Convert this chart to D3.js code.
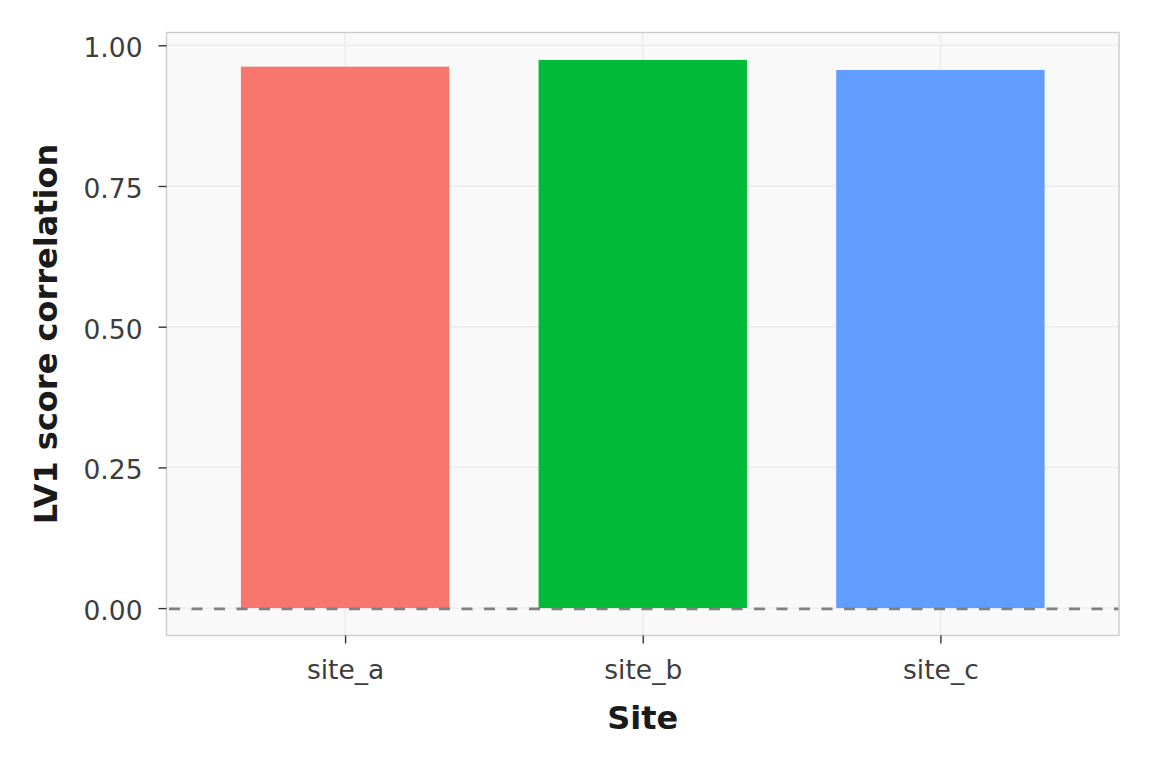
<!DOCTYPE html>
<html>
<head>
<meta charset="utf-8">
<script src="https://cdn.jsdelivr.net/npm/d3@7"></script>
<style>
  body { margin: 0; background: #fff; }
  text { font-family: "DejaVu Sans", sans-serif; }
</style>
</head>
<body>
<div id="chart"></div>
<script>
// chart data
var sites = ["site_a", "site_b", "site_c"];
var correlations = [0.962, 0.974, 0.956];
var barColors = ["#F8766D", "#00BA38", "#619CFF"];
var yTicks = [0, 0.25, 0.5, 0.75, 1];

var svgWidth = 1152;
var svgHeight = 768;

var margin = { top: 32.5, right: 33, bottom: 132.5, left: 166.5 };
var width = svgWidth - margin.left - margin.right;
var height = svgHeight - margin.top - margin.bottom;

var svg = d3.select("#chart")
  .append("svg")
  .attr("width", svgWidth)
  .attr("height", svgHeight);

var chartGroup = svg.append("g")
  .attr("transform", `translate(${margin.left}, ${margin.top})`);

// discrete x scale, 0.6 step padding on each side like ggplot
var xScale = d3.scalePoint()
  .domain(sites)
  .range([0, width])
  .padding(0.6);
var step = width / (sites.length - 1 + 1.2);
var barWidth = step * 0.7;

var yMax = d3.max(correlations);
var pad = yMax * 0.05;
var yScale = d3.scaleLinear()
  .domain([-pad, yMax + pad])
  .range([height, 0]);

// panel background
chartGroup.append("rect")
  .attr("width", width)
  .attr("height", height)
  .attr("fill", "#f9f9f9");

// grid lines
chartGroup.append("g")
  .selectAll("line")
  .data(yTicks)
  .enter()
  .append("line")
  .attr("x1", 0)
  .attr("x2", width)
  .attr("y1", d => yScale(d))
  .attr("y2", d => yScale(d))
  .attr("stroke", "#ebebeb")
  .attr("stroke-width", 1.4);

chartGroup.append("g")
  .selectAll("line")
  .data(sites)
  .enter()
  .append("line")
  .attr("x1", d => xScale(d))
  .attr("x2", d => xScale(d))
  .attr("y1", 0)
  .attr("y2", height)
  .attr("stroke", "#ebebeb")
  .attr("stroke-width", 1.4);

// bars
chartGroup.append("g")
  .selectAll("rect")
  .data(sites)
  .enter()
  .append("rect")
  .attr("x", d => xScale(d) - barWidth / 2)
  .attr("width", barWidth)
  .attr("y", (d, i) => yScale(correlations[i]))
  .attr("height", (d, i) => yScale(0) - yScale(correlations[i]))
  .attr("fill", (d, i) => barColors[i]);

// zero reference line
chartGroup.append("line")
  .attr("x1", 0)
  .attr("x2", width)
  .attr("y1", yScale(0) + 0.8)
  .attr("y2", yScale(0) + 0.8)
  .attr("stroke", "#7f7f7f")
  .attr("stroke-width", 2.8)
  .attr("stroke-dasharray", "11,11.5")
  .attr("stroke-dashoffset", -2.5);

// panel border
chartGroup.append("rect")
  .attr("width", width)
  .attr("height", height)
  .attr("fill", "none")
  .attr("stroke", "#cccccc")
  .attr("stroke-width", 1.4);

// axes
var leftAxis = d3.axisLeft(yScale)
  .tickValues(yTicks)
  .tickFormat(d3.format(".2f"))
  .tickSize(8)
  .tickPadding(16);

var bottomAxis = d3.axisBottom(xScale)
  .tickSize(8)
  .tickPadding(17);

var yAxisG = chartGroup.append("g").call(leftAxis);
var xAxisG = chartGroup.append("g").attr("transform", `translate(0, ${height})`).call(bottomAxis);

[yAxisG, xAxisG].forEach(function(g) {
  g.select(".domain").remove();
  g.selectAll(".tick line").attr("stroke", "#333333").attr("stroke-width", 1.4);
  g.selectAll(".tick text")
    .attr("fill", "#3d3d3d")
    .attr("font-size", "26.5px")
    .style("font-family", "DejaVu Sans, sans-serif");
});
yAxisG.selectAll(".tick text").attr("dy", "0.43em");

// axis titles
chartGroup.append("text")
  .attr("transform", "rotate(-90)")
  .attr("x", -height / 2)
  .attr("y", 57 - margin.left)
  .attr("text-anchor", "middle")
  .attr("font-size", "32px")
  .attr("font-weight", "bold")
  .attr("fill", "#1a1a1a")
  .text("LV1 score correlation");

chartGroup.append("text")
  .attr("x", width / 2)
  .attr("y", height + 93)
  .attr("text-anchor", "middle")
  .attr("font-size", "32px")
  .attr("font-weight", "bold")
  .attr("fill", "#1a1a1a")
  .text("Site");
</script>
</body>
</html>
